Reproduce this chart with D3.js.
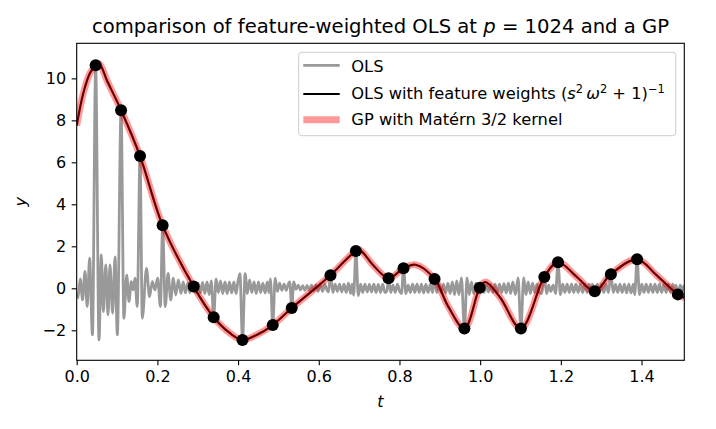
<!DOCTYPE html>
<html>
<head>
<meta charset="utf-8">
<script src="https://cdn.jsdelivr.net/npm/d3@7"></script>
<style>
  body { margin: 0; background: #fff; }
  text { font-family: "DejaVu Sans", sans-serif; }
</style>
</head>
<body>
<div id="chart"></div>
<script>
// observations (black dots)
const obsT = [0.047, 0.110, 0.157, 0.213, 0.290, 0.3395, 0.411, 0.486, 0.533, 0.629, 0.692,
  0.773, 0.810, 0.887, 0.961, 0.999, 1.101, 1.159, 1.193, 1.284, 1.324, 1.389, 1.490];
const obsY = [10.62, 8.48, 6.30, 3.00, 0.08, -1.38, -2.46, -1.75, -0.94, 0.62, 1.78,
  0.48, 0.95, 0.44, -1.92, 0.03, -1.92, 0.54, 1.24, -0.14, 0.67, 1.38, -0.29];

// smooth fit: [t, y]
const fitCurve = [
  [0, 7.75], [0.0165, 9.3], [0.033, 10.25], [0.047, 10.62], [0.056, 10.7], [0.075, 9.9],
  [0.110, 8.48], [0.157, 6.30], [0.213, 3.00], [0.290, 0.08], [0.3395, -1.38], [0.38, -2.14],
  [0.411, -2.46], [0.446, -2.22], [0.486, -1.75], [0.533, -0.94], [0.58, -0.18], [0.629, 0.62],
  [0.692, 1.78], [0.702, 1.82], [0.735, 1.1], [0.773, 0.48], [0.810, 0.95], [0.84, 1.12],
  [0.887, 0.44], [0.921, -0.87], [0.961, -1.92], [0.999, 0.03], [1.013, 0.3], [1.05, -0.45],
  [1.101, -1.92], [1.159, 0.54], [1.193, 1.24], [1.239, 0.55], [1.284, -0.14], [1.324, 0.67],
  [1.389, 1.38], [1.437, 0.63], [1.490, -0.29], [1.506, -0.45]
];

// plain OLS (gray, ringing with spikes): [t, y]
const olsCurve = [
  [0, -0.2], [0.003, -0.45], [0.0088, 0.45], [0.0146, -0.55], [0.0206, 0.8], [0.026, -0.87],
  [0.032, 1.43], [0.039, -2.22], [0.047, 10.62], [0.0553, -2.46], [0.061, 1.59], [0.066, -1.11],
  [0.072, 1.11], [0.0776, -1.27], [0.0825, 1.11], [0.089, -1.19], [0.095, 1.5], [0.1007, -2.22],
  [0.110, 8.48], [0.117, -1.43], [0.124, 0.63], [0.1296, -0.63], [0.1353, 0.32], [0.140, -0.08],
  [0.1445, 0.48], [0.150, -0.87], [0.157, 6.30], [0.1626, -1.43], [0.173, 0.95], [0.1805, -0.4],
  [0.1875, 0.32], [0.194, -0.08], [0.2005, 0.48], [0.2075, -0.87], [0.213, 3.00], [0.2195, -0.87],
  [0.2265, 0.71], [0.233, -0.56], [0.2395, 0.48], [0.2455, -0.32], [0.252, 0.4], [0.2585, -0.24],
  [0.264, 0.3], [0.2695, -0.22], [0.275, 0.25], [0.2805, -0.2], [0.2855, 0.22], [0.290, 0.08],
  [0.2955, -0.2], [0.301, 0.25], [0.3065, -0.22], [0.312, 0.28], [0.3175, -0.25], [0.323, 0.3],
  [0.3285, -0.3], [0.3335, 0.35], [0.3395, -1.38], [0.3455, 0.45], [0.351, -0.2], [0.3565, 0.35],
  [0.362, -0.25], [0.3675, 0.3], [0.373, -0.25], [0.3785, 0.3], [0.384, -0.22], [0.3895, 0.3],
  [0.395, -0.25], [0.3995, 0.3], [0.4045, 0.7], [0.411, -2.46], [0.4175, 0.7], [0.423, -0.25],
  [0.4285, 0.4], [0.434, -0.2], [0.4395, 0.3], [0.445, -0.25], [0.4505, 0.3], [0.456, -0.2],
  [0.4615, 0.25], [0.467, -0.22], [0.4725, 0.3], [0.4765, -0.2], [0.480, 0.45], [0.486, -1.75],
  [0.492, 0.48], [0.4975, -0.15], [0.503, 0.25], [0.5085, -0.1], [0.514, 0.2], [0.5195, -0.1],
  [0.5235, 0.15], [0.528, 0.3], [0.533, -0.94], [0.538, 0.3], [0.5435, -0.05], [0.549, 0.15],
  [0.5545, -0.08], [0.56, 0.12], [0.5655, -0.1], [0.571, 0.14], [0.5765, -0.1], [0.582, 0.15],
  [0.5875, -0.12], [0.593, 0.16], [0.5985, -0.14], [0.604, 0.18], [0.6095, -0.15], [0.615, 0.2],
  [0.6205, -0.1], [0.624, -0.18], [0.629, 0.62], [0.635, -0.2], [0.6405, 0.2], [0.646, -0.15],
  [0.6515, 0.2], [0.657, -0.18], [0.6625, 0.2], [0.668, -0.2], [0.6735, 0.25], [0.679, -0.25],
  [0.6825, 0.2], [0.6865, -0.32], [0.692, 1.78], [0.698, -0.35], [0.7035, 0.2], [0.709, -0.2],
  [0.7145, 0.2], [0.72, -0.18], [0.7255, 0.18], [0.731, -0.18], [0.7365, 0.2], [0.742, -0.2],
  [0.7475, 0.18], [0.753, -0.2], [0.7585, 0.2], [0.764, -0.2], [0.7685, -0.15], [0.773, 0.48],
  [0.7785, -0.2], [0.784, 0.15], [0.7895, -0.2], [0.795, 0.2], [0.8005, -0.15], [0.805, -0.25],
  [0.810, 0.95], [0.816, -0.25], [0.8215, 0.15], [0.827, -0.2], [0.8325, 0.2], [0.838, -0.2],
  [0.8435, 0.2], [0.849, -0.2], [0.8545, 0.2], [0.86, -0.22], [0.8655, 0.18], [0.871, -0.2],
  [0.8765, 0.2], [0.882, -0.2], [0.887, 0.44], [0.8925, -0.2], [0.898, 0.2], [0.9035, -0.2],
  [0.909, 0.2], [0.9145, -0.22], [0.92, 0.25], [0.9255, -0.25], [0.931, 0.3], [0.9365, -0.3],
  [0.942, 0.35], [0.9475, -0.3], [0.9535, 0.5], [0.961, -1.92], [0.9675, 0.5], [0.973, -0.3],
  [0.9785, 0.3], [0.984, -0.25], [0.9895, 0.25], [0.995, -0.2], [0.999, 0.03], [1.004, 0.2],
  [1.0095, -0.2], [1.015, 0.18], [1.0205, -0.18], [1.026, 0.18], [1.0315, -0.2], [1.037, 0.2],
  [1.0425, -0.2], [1.048, 0.2], [1.0535, -0.2], [1.059, 0.22], [1.0645, -0.22], [1.07, 0.25],
  [1.0755, -0.25], [1.081, 0.3], [1.0875, -0.3], [1.094, 0.5], [1.101, -1.92], [1.108, 0.5],
  [1.1135, -0.3], [1.119, 0.3], [1.1245, -0.25], [1.13, 0.25], [1.1355, -0.2], [1.141, 0.2],
  [1.1465, -0.2], [1.1525, -0.25], [1.159, 0.54], [1.165, -0.25], [1.17, 0.15], [1.175, -0.15],
  [1.181, 0.15], [1.187, -0.25], [1.193, 1.24], [1.199, -0.3], [1.2045, 0.2], [1.21, -0.2],
  [1.2155, 0.2], [1.221, -0.2], [1.2265, 0.2], [1.232, -0.2], [1.2375, 0.2], [1.243, -0.2],
  [1.2485, 0.2], [1.254, -0.2], [1.2595, 0.2], [1.265, -0.2], [1.2705, 0.2], [1.2735, -0.18],
  [1.2785, 0.2], [1.284, -0.3], [1.29, 0.2], [1.2955, -0.2], [1.301, 0.2], [1.3065, -0.2],
  [1.312, 0.2], [1.318, -0.2], [1.324, 0.67], [1.33, -0.2], [1.3355, 0.18], [1.341, -0.2],
  [1.3465, 0.2], [1.352, -0.2], [1.3575, 0.2], [1.363, -0.22], [1.3685, 0.2], [1.374, -0.22],
  [1.3795, 0.2], [1.383, -0.3], [1.389, 1.38], [1.395, -0.3], [1.4005, 0.2], [1.406, -0.2],
  [1.4115, 0.2], [1.417, -0.2], [1.4225, 0.2], [1.428, -0.2], [1.4335, 0.2], [1.439, -0.2],
  [1.4445, 0.2], [1.45, -0.2], [1.4555, 0.2], [1.461, -0.2], [1.4665, 0.2], [1.472, -0.2],
  [1.4775, 0.2], [1.483, -0.15], [1.4855, 0.15], [1.490, -0.29], [1.496, 0.15], [1.5015, -0.1],
  [1.506, 0.15]
];

const xTicks = [0, 0.2, 0.4, 0.6, 0.8, 1.0, 1.2, 1.4];
const yTicks = [-2, 0, 2, 4, 6, 8, 10];
const xDomain = [0, 1.506];
const yDomain = [-3.43, 11.67];

const width = 716, height = 429;
const margin = { top: 43.3, right: 31.7, bottom: 68.7, left: 76.7 };
const tickFont = "16px", legendFont = "16.3px", supFont = "11.4px";

const svg = d3.select("#chart").append("svg")
  .attr("width", width)
  .attr("height", height);

const x = d3.scaleLinear().domain(xDomain).range([margin.left, width - margin.right]);
const y = d3.scaleLinear().domain(yDomain).range([height - margin.bottom, margin.top]);

// clip to axes
svg.append("defs").append("clipPath").attr("id", "plot-area")
  .append("rect")
  .attr("x", margin.left).attr("y", margin.top)
  .attr("width", width - margin.left - margin.right)
  .attr("height", height - margin.top - margin.bottom);

const plot = svg.append("g").attr("clip-path", "url(#plot-area)");

const olsLine = d3.line().x(d => x(d[0])).y(d => y(d[1])).curve(d3.curveMonotoneX);
const fitLine = d3.line().x(d => x(d[0])).y(d => y(d[1])).curve(d3.curveCatmullRom.alpha(0.5));

plot.append("path")
  .attr("d", olsLine(olsCurve))
  .attr("fill", "none")
  .attr("stroke", "#999999")
  .attr("stroke-width", 2.8)
  .attr("stroke-linejoin", "round");

plot.append("path")
  .attr("d", fitLine(fitCurve))
  .attr("fill", "none")
  .attr("stroke", "#000")
  .attr("stroke-width", 2.2);

plot.append("path")
  .attr("d", fitLine(fitCurve))
  .attr("fill", "none")
  .attr("stroke", "red")
  .attr("stroke-opacity", 0.4)
  .attr("stroke-width", 6.9);

svg.append("g")
  .selectAll("circle")
  .data(obsT)
  .enter()
  .append("circle")
  .attr("cx", d => x(d))
  .attr("cy", (d, i) => y(obsY[i]))
  .attr("r", 6)
  .attr("fill", "#000");

// axes
const xAxis = svg.append("g")
  .attr("transform", `translate(0,${height - margin.bottom})`)
  .call(d3.axisBottom(x).tickValues(xTicks).tickFormat(d3.format(".1f"))
    .tickSize(5).tickPadding(5.5).tickSizeOuter(0));
const yAxis = svg.append("g")
  .attr("transform", `translate(${margin.left},0)`)
  .call(d3.axisLeft(y).tickValues(yTicks).tickFormat(d3.format("d"))
    .tickSize(5).tickPadding(5.5).tickSizeOuter(0));

[xAxis, yAxis].forEach(a => {
  a.select(".domain").remove();
  a.selectAll(".tick line").attr("stroke", "#000").attr("stroke-width", 1.1);
  a.selectAll(".tick text")
    .attr("fill", "#000")
    .style("font-family", "DejaVu Sans")
    .style("font-size", tickFont);
});

svg.append("rect")
  .attr("x", margin.left).attr("y", margin.top)
  .attr("width", width - margin.left - margin.right)
  .attr("height", height - margin.top - margin.bottom)
  .attr("fill", "none")
  .attr("stroke", "#000")
  .attr("stroke-width", 1.1);

// axis labels
svg.append("text")
  .attr("x", (margin.left + width - margin.right) / 2)
  .attr("y", 407)
  .attr("text-anchor", "middle")
  .style("font-size", tickFont)
  .style("font-style", "italic")
  .text("t");

svg.append("text")
  .attr("transform", `translate(26,${(margin.top + height - margin.bottom) / 2}) rotate(-90)`)
  .attr("text-anchor", "middle")
  .style("font-size", tickFont)
  .style("font-style", "italic")
  .text("y");

// title
const title = svg.append("text")
  .attr("x", (margin.left + width - margin.right) / 2)
  .attr("y", 33.3)
  .attr("text-anchor", "middle")
  .style("font-size", "19.6px");
title.append("tspan").text("comparison of feature-weighted OLS at ");
title.append("tspan").style("font-style", "italic").text("p");
title.append("tspan").text(" = 1024 and a GP");

// legend
const legend = svg.append("g");
legend.append("rect")
  .attr("x", 298.7).attr("y", 52.3)
  .attr("width", 377).attr("height", 83.4)
  .attr("rx", 3)
  .attr("fill", "#fff").attr("fill-opacity", 0.8)
  .attr("stroke", "#cccccc").attr("stroke-width", 1);

const legendRows = [
  { y: 65.3, stroke: "#999999", width: 2.8, opacity: 1 },
  { y: 94, stroke: "#000", width: 2.2, opacity: 1 },
  { y: 119.7, stroke: "red", width: 6.9, opacity: 0.4 }
];
legendRows.forEach(r => {
  legend.append("line")
    .attr("x1", 303.3).attr("x2", 339.7)
    .attr("y1", r.y).attr("y2", r.y)
    .attr("stroke", r.stroke)
    .attr("stroke-width", r.width)
    .attr("stroke-opacity", r.opacity);
});

legend.append("text")
  .attr("x", 351.3).attr("y", 71.5)
  .style("font-size", legendFont)
  .text("OLS");

const t2 = legend.append("text")
  .attr("x", 351.3).attr("y", 99.3)
  .style("font-size", legendFont);
t2.append("tspan").text("OLS with feature weights (");
t2.append("tspan").style("font-style", "italic").text("s");
t2.append("tspan").attr("dy", -6.5).style("font-size", supFont).text("2");
t2.append("tspan").attr("dy", 6.5).text("\u2009");
t2.append("tspan").style("font-style", "italic").text("ω");
t2.append("tspan").attr("dy", -6.5).style("font-size", supFont).text("2");
t2.append("tspan").attr("dy", 6.5).text(" + 1)");
t2.append("tspan").attr("dy", -6.5).style("font-size", supFont).text("−1");

legend.append("text")
  .attr("x", 351.3).attr("y", 125)
  .style("font-size", legendFont)
  .text("GP with Matérn 3/2 kernel");
</script>
</body>
</html>
